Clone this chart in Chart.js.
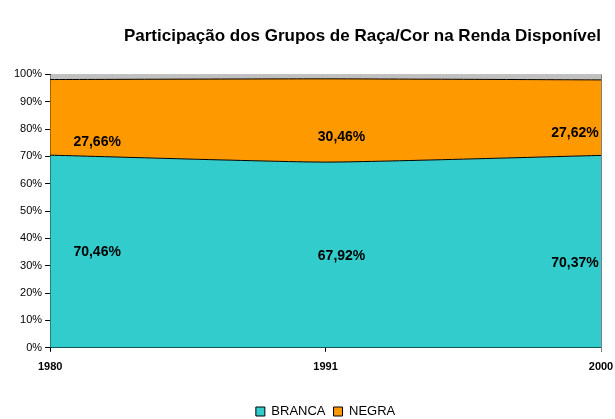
<!DOCTYPE html>
<html>
<head>
<meta charset="utf-8">
<script src="https://cdn.jsdelivr.net/npm/chart.js@4"></script>
<style>
  html, body { margin: 0; padding: 0; background: #fff; }
  #wrap { width: 615px; height: 419px; }
</style>
</head>
<body>
<div id="wrap"><canvas id="areaChart"></canvas></div>
<script>
// participação dos grupos de raça/cor na renda disponível
const anos = ["1980", "1991", "2000"];
const branca = [70.46, 67.92, 70.37];
const negra = [27.66, 30.46, 27.62];
const outros = [1.88, 1.62, 2.01];
const yTicks = [0, 10, 20, 30, 40, 50, 60, 70, 80, 90, 100];

const fmt = v => v.toFixed(2).replace(".", ",") + "%";

// labels inside the areas, like the excel original
const labelPlugin = {
    id: "areaLabels",
    afterLayout(chart) {
        // center the legend under the plot instead of the canvas
        const lg = chart.legend, ca = chart.chartArea;
        if (!lg) return;
        const shift = (ca.left + ca.right) / 2 - (lg.left + lg.right) / 2;
        lg.left += shift;
        lg.right += shift;
    },
    afterDatasetsDraw(chart) {
        const ctx = chart.ctx;
        const x = chart.scales.x, y = chart.scales.y;
        const dx = [47, 16, -26];
        ctx.save();
        ctx.font = "bold 14px 'Liberation Sans', Arial, sans-serif";
        ctx.fillStyle = "#000";
        ctx.textAlign = "center";
        ctx.textBaseline = "middle";
        anos.forEach((a, i) => {
            const px = x.getPixelForValue(i) + dx[i];
            const bOff = [0.494, 0.496, 0.442][i];
            ctx.fillText(fmt(branca[i]), px, y.getPixelForValue(branca[i] * bOff));
            ctx.fillText(fmt(negra[i]), px, y.getPixelForValue(branca[i] + [4.7, 9, 8][i]));
        });
        // right edge of plot
        const ca = chart.chartArea;
        ctx.strokeStyle = "#808080";
        ctx.lineWidth = 1;
        ctx.beginPath();
        ctx.moveTo(Math.round(ca.right) + 0.5, ca.top);
        ctx.lineTo(Math.round(ca.right) + 0.5, ca.bottom + 4);
        ctx.stroke();
        ctx.restore();
    }
};

new Chart("areaChart", {
    type: "line",
    data: {
        labels: anos,
        datasets: [{
            label: "BRANCA",
            data: branca,
            fill: "origin",
            backgroundColor: "#33CCCC",
            borderColor: "#000",
            borderWidth: 1,
            pointRadius: 0,
            tension: 0.15
        }, {
            label: "NEGRA",
            data: negra,
            fill: "-1",
            backgroundColor: "#FF9900",
            borderColor: "#000",
            borderWidth: 1,
            pointRadius: 0,
            tension: 0.15
        }, {
            label: "OUTROS",
            data: outros,
            fill: "-1",
            backgroundColor: "#C0C0C0",
            borderColor: "#808080",
            borderWidth: 1,
            pointRadius: 0,
            tension: 0
        }]
    },
    options: {
        responsive: true,
        maintainAspectRatio: false,
        animation: false,
        layout: { padding: { left: 11, right: 14, top: 0, bottom: -9 } },
        plugins: {
            title: {
                display: true,
                text: "Participação dos Grupos de Raça/Cor na Renda Disponível",
                align: "end",
                color: "#000",
                font: { family: "'Liberation Sans', Arial, sans-serif", size: 17, weight: "bold" },
                padding: { top: 26, bottom: 28 }
            },
            legend: {
                position: "bottom",
                labels: {
                    filter: item => item.datasetIndex < 2,
                    color: "#000",
                    boxWidth: 9,
                    boxHeight: 9,
                    padding: 8,
                    font: { family: "'Liberation Sans', Arial, sans-serif", size: 13 }
                }
            },
            tooltip: { enabled: false }
        },
        scales: {
            x: {
                offset: false,
                afterFit: s => { s.height += 14; s.paddingRight = 0; },
                grid: { drawOnChartArea: false, tickLength: 4, color: "#000" },
                border: { color: "#000" },
                ticks: {
                    color: "#000",
                    maxRotation: 0,
                    padding: 9,
                    font: { family: "'Liberation Sans', Arial, sans-serif", size: 11, weight: "bold" }
                }
            },
            y: {
                stacked: true,
                min: 0,
                max: 100,
                afterBuildTicks: s => { s.ticks = yTicks.map(v => ({ value: v })); },
                grid: { drawOnChartArea: false, tickLength: 5, color: "#000" },
                border: { color: "#000" },
                ticks: {
                    color: "#000",
                    padding: 3,
                    callback: v => v + "%",
                    font: { family: "'Liberation Sans', Arial, sans-serif", size: 11 }
                }
            }
        }
    },
    plugins: [labelPlugin]
});
</script>
</body>
</html>
